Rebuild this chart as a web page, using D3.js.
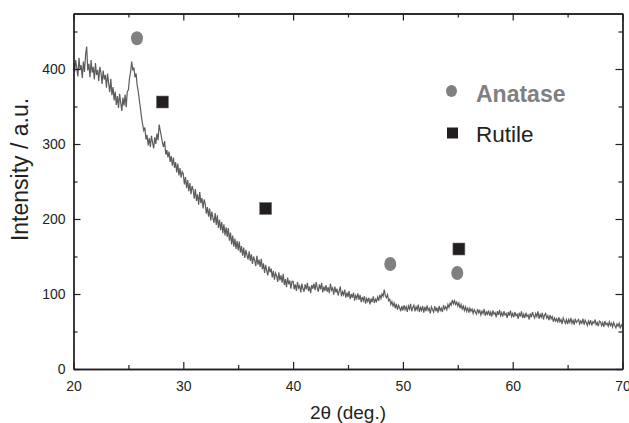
<!DOCTYPE html>
<html>
<head>
<meta charset="utf-8">
<script src="https://cdn.jsdelivr.net/npm/d3@7"></script>
<style>
    body { margin: 0; background: #fff; }
    text { font-family: "Liberation Sans", Arial, Helvetica, sans-serif; }
</style>
</head>
<body>
<div id="chart"></div>
<script>
// Dimensions
const width = 629;
const height = 423;
const margin = { top: 13.5, right: 6.5, bottom: 54, left: 73.5 };

const scanStart = 20;
const scanStep = 0.1;
const intensity20to30 = [
    408, 396, 412, 401, 390, 415, 399, 405, 388, 410,
    396, 419, 430, 398, 407, 389, 412, 395, 403, 386,
    408, 392, 399, 384, 403, 395, 380, 398, 386, 392,
    375, 394, 381, 369, 387, 365, 376, 358, 370, 352,
    364, 348, 367, 355, 344, 362, 351, 366, 349, 370,
    372, 388, 396, 410, 398, 402, 389, 394, 378, 370,
    358, 347, 335, 326, 318, 322, 306, 312, 298, 308,
    296, 311, 302, 294, 309, 300, 314, 305, 326, 318,
    310, 302, 296, 304, 286, 292, 282, 290, 276, 284,
    271, 282, 268, 276, 262, 274, 258, 268, 255, 263
];
const intensity30to40 = [
    260, 246, 256, 241, 252, 237, 248, 233, 244, 239,
    227, 240, 224, 233, 219, 236, 221, 228, 214, 226,
    220, 207, 216, 203, 214, 198, 210, 201, 195, 208,
    192, 205, 188, 199, 185, 196, 181, 193, 178, 189,
    176, 188, 171, 182, 166, 178, 163, 174, 160, 171,
    158, 170, 155, 164, 151, 162, 148, 159, 152, 146,
    157, 144, 153, 140, 150, 145, 137, 151, 139, 146,
    136, 147, 133, 141, 128, 139, 131, 125, 137, 129,
    134, 122, 131, 119, 128, 124, 116, 129, 118, 125,
    115, 127, 112, 120, 109, 122, 113, 118, 107, 117
];
const intensity40to50 = [
    117, 106, 113, 104, 116, 108, 111, 102, 114, 107,
    103, 113, 106, 115, 104, 110, 101, 112, 107, 114,
    105, 116, 108, 103, 113, 106, 115, 102, 110, 104,
    112, 103, 109, 101, 114, 105, 108, 99, 110, 102,
    107, 98, 104, 110, 97, 103, 99, 106, 95, 102,
    96, 104, 93, 100, 95, 102, 91, 98, 94, 101,
    92, 99, 89, 96, 91, 97, 87, 94, 90, 95,
    86, 94, 89, 97, 88, 93, 90, 96, 91, 99,
    94, 100, 97, 106, 98, 95, 99, 91, 93, 86,
    90, 84, 88, 81, 87, 79, 85, 82, 77, 84
];
const intensity50to60 = [
    78, 85, 79, 83, 76, 84, 80, 87, 77, 82,
    85, 77, 83, 79, 86, 76, 82, 78, 84, 75,
    83, 77, 85, 78, 81, 74, 83, 79, 76, 84,
    77, 82, 75, 84, 78, 81, 76, 85, 80, 83,
    79, 86, 82, 88, 85, 92, 87, 91, 86, 89,
    84, 88, 81, 86, 80, 84, 78, 83, 77, 82,
    75, 81, 77, 80, 74, 79, 76, 73, 80, 75,
    78, 72, 77, 74, 80, 71, 76, 73, 78, 71,
    76, 70, 78, 73, 75, 69, 77, 72, 79, 71,
    75, 70, 77, 72, 74, 68, 76, 71, 78, 70
];
const intensity60to70 = [
    74, 69, 76, 71, 73, 67, 75, 70, 77, 68,
    73, 68, 75, 70, 72, 66, 74, 69, 76, 71,
    68, 74, 70, 77, 67, 73, 69, 75, 66, 72,
    74, 68, 71, 65, 72, 67, 70, 63, 68, 64,
    67, 62, 69, 63, 66, 60, 68, 64, 61, 66,
    60, 66, 62, 68, 61, 65, 59, 67, 62, 64,
    66, 60, 64, 61, 67, 59, 65, 62, 58, 64,
    60, 65, 58, 63, 61, 66, 59, 62, 57, 64,
    63, 58, 62, 56, 64, 59, 61, 57, 63, 58,
    61, 56, 62, 58, 55, 60, 57, 61, 54, 59,
    57
];

// Reflection markers [2theta, height]
const anatasePeaks = [[25.78, 441], [48.85, 140], [54.95, 128]];
const rutilePeaks = [[28.1, 356], [37.5, 214], [55.1, 160]];

const xTicks = [20, 30, 40, 50, 60, 70];
const xMinorTicks = [25, 35, 45, 55, 65];
const yTicks = [0, 100, 200, 300, 400];
const yMinorTicks = [50, 150, 250, 350, 450];

const lineColor = "#5c5c5c";
const anataseColor = "#808080";
const rutileColor = "#231f20";
const axisColor = "#231f20";

const intensity = [].concat(intensity20to30, intensity30to40, intensity40to50, intensity50to60, intensity60to70);
const scan = intensity.map((v, i) => ({ theta: +(scanStart + i * scanStep).toFixed(2), value: v }));

const x = d3.scaleLinear().domain([20, 70]).range([margin.left, width - margin.right]);
const y = d3.scaleLinear().domain([0, 474]).range([height - margin.bottom, margin.top]);

const svg = d3.select("#chart")
    .append("svg")
    .attr("width", width)
    .attr("height", height);

// Spectrum
const line = d3.line()
    .x(d => x(d.theta))
    .y(d => y(d.value));

svg.append("path")
    .datum(scan)
    .attr("fill", "none")
    .attr("stroke", lineColor)
    .attr("stroke-width", 1.2)
    .attr("d", line);

// Axes - ticks point inward, frame on all four sides
function styleAxis(g) {
    g.select(".domain").attr("stroke", axisColor).attr("stroke-width", 1.3);
    g.selectAll(".tick line").attr("stroke", axisColor).attr("stroke-width", 1.2);
    g.selectAll(".tick text")
        .attr("fill", axisColor)
        .attr("font-size", "14px");
}

// bottom
svg.append("g")
    .attr("transform", `translate(0,${height - margin.bottom})`)
    .call(d3.axisBottom(x).tickValues(xMinorTicks).tickSize(-4).tickFormat("").tickSizeOuter(0))
    .call(styleAxis);
svg.append("g")
    .attr("transform", `translate(0,${height - margin.bottom})`)
    .call(d3.axisBottom(x).tickValues(xTicks).tickSize(-7).tickPadding(12).tickFormat(d3.format("d")).tickSizeOuter(0))
    .call(styleAxis);

// top
svg.append("g")
    .attr("transform", `translate(0,${margin.top})`)
    .call(d3.axisTop(x).tickValues(xMinorTicks).tickSize(-4).tickFormat("").tickSizeOuter(0))
    .call(styleAxis);
svg.append("g")
    .attr("transform", `translate(0,${margin.top})`)
    .call(d3.axisTop(x).tickValues(xTicks).tickSize(-7).tickFormat("").tickSizeOuter(0))
    .call(styleAxis);

// left
svg.append("g")
    .attr("transform", `translate(${margin.left},0)`)
    .call(d3.axisLeft(y).tickValues(yMinorTicks).tickSize(-4).tickFormat("").tickSizeOuter(0))
    .call(styleAxis);
svg.append("g")
    .attr("transform", `translate(${margin.left},0)`)
    .call(d3.axisLeft(y).tickValues(yTicks).tickSize(-7).tickPadding(8).tickFormat(d3.format("d")).tickSizeOuter(0))
    .call(styleAxis);

// right
svg.append("g")
    .attr("transform", `translate(${width - margin.right},0)`)
    .call(d3.axisRight(y).tickValues(yMinorTicks).tickSize(-4).tickFormat("").tickSizeOuter(0))
    .call(styleAxis);
svg.append("g")
    .attr("transform", `translate(${width - margin.right},0)`)
    .call(d3.axisRight(y).tickValues(yTicks).tickSize(-7).tickFormat("").tickSizeOuter(0))
    .call(styleAxis);

// Markers
svg.append("g")
    .selectAll("ellipse")
    .data(anatasePeaks)
    .join("ellipse")
    .attr("cx", d => x(d[0]))
    .attr("cy", d => y(d[1]))
    .attr("rx", 6)
    .attr("ry", 7)
    .attr("fill", anataseColor);

svg.append("g")
    .selectAll("rect")
    .data(rutilePeaks)
    .join("rect")
    .attr("x", d => x(d[0]) - 6)
    .attr("y", d => y(d[1]) - 6)
    .attr("width", 12)
    .attr("height", 12)
    .attr("fill", rutileColor)
    .attr("stroke", "#777")
    .attr("stroke-width", 0.6);

// Legend
const legend = svg.append("g");
legend.append("ellipse")
    .attr("cx", 451.5).attr("cy", 91)
    .attr("rx", 5.5).attr("ry", 6)
    .attr("fill", anataseColor);
legend.append("text")
    .attr("x", 476).attr("y", 101.5)
    .attr("font-size", "23px")
    .attr("font-weight", "bold")
    .attr("fill", anataseColor)
    .text("Anatase");
legend.append("rect")
    .attr("x", 447).attr("y", 127.5)
    .attr("width", 11).attr("height", 11)
    .attr("fill", rutileColor);
legend.append("text")
    .attr("x", 476).attr("y", 141.5)
    .attr("font-size", "22.5px")
    .attr("fill", rutileColor)
    .text("Rutile");

// Axis titles
svg.append("text")
    .attr("x", (margin.left + width - margin.right) / 2)
    .attr("y", 419)
    .attr("text-anchor", "middle")
    .attr("font-size", "19px")
    .attr("fill", axisColor)
    .text("2\u03b8 (deg.)");

svg.append("text")
    .attr("transform", "translate(28,169.5) rotate(-90)")
    .attr("text-anchor", "middle")
    .attr("font-size", "23px")
    .attr("fill", axisColor)
    .text("Intensity / a.u.");
</script>
</body>
</html>
